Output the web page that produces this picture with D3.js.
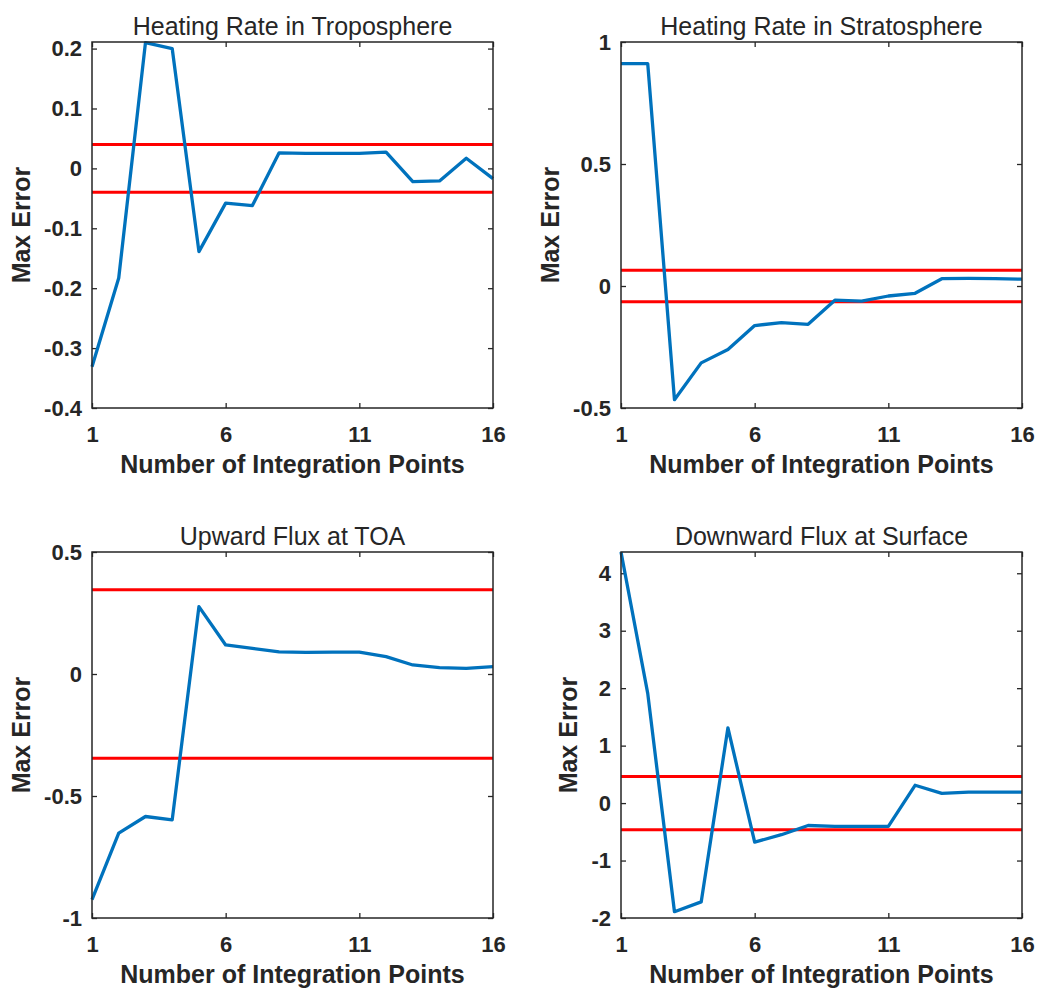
<!DOCTYPE html>
<meta charset="utf-8">
<script src="https://d3js.org/d3.v7.min.js"></script>
<style>
  body { margin: 0; background: #fff; }
  svg text { font-family: "Liberation Sans", Arial, sans-serif; fill: #262626; }
</style>
<div id="my_dataviz"></div>
<script>
    // number of integration points (x values)
    var points = d3.range(1, 17);
    var xTicks = [1, 6, 11, 16];

    var titles = ["Heating Rate in Troposphere", "Heating Rate in Stratosphere",
                  "Upward Flux at TOA", "Downward Flux at Surface"];

    // max error series
    var tropo = [-0.331, -0.183, 0.21, 0.2, -0.139, -0.058, -0.062, 0.026,
                 0.025, 0.025, 0.025, 0.027, -0.022, -0.021, 0.017, -0.017];
    var strato = [0.911, 0.911, -0.466, -0.315, -0.26, -0.162, -0.15, -0.157,
                  -0.058, -0.062, -0.041, -0.030, 0.030, 0.031, 0.030, 0.028];
    var fluxToa = [-0.925, -0.652, -0.584, -0.598, 0.276, 0.119, 0.105, 0.091,
                   0.089, 0.09, 0.09, 0.071, 0.037, 0.026, 0.023, 0.03];
    var fluxSfc = [4.37, 1.91, -1.89, -1.72, 1.31, -0.68, -0.55, -0.39,
                   -0.405, -0.405, -0.405, 0.31, 0.17, 0.19, 0.19, 0.19];

    // tolerance bands (red lines at +/- value)
    var tolerance = [0.04, 0.065, 0.345, 0.463];

    // y limits and ticks
    var yDomains = [[-0.4, 0.211], [-0.5, 1], [-1, 0.5], [-2, 4.37]];
    var yTickVals = [[-0.4, -0.3, -0.2, -0.1, 0, 0.1, 0.2],
                     [-0.5, 0, 0.5, 1],
                     [-1, -0.5, 0, 0.5],
                     [-2, -1, 0, 1, 2, 3, 4]];

    var series = [tropo, strato, fluxToa, fluxSfc];

    // panel boxes (left, top) in page pixels
    var panelPos = [[92, 42], [621, 42], [92, 552], [621, 552]];
    var pw = 401, ph = 366;

    var svg = d3.select("#my_dataviz")
        .append("svg")
        .attr("width", 1037)
        .attr("height", 988);

    function fmt(v) {
        if (v === 0) return "0";
        return String(v);
    }

    series.forEach(function (data, k) {
        var g = svg.append("g")
            .attr("transform", `translate(${panelPos[k][0]},${panelPos[k][1]})`);

        var xScale = d3.scaleLinear().domain([1, 16]).range([0, pw]);
        var yScale = d3.scaleLinear().domain(yDomains[k]).range([ph, 0]);

        // inward ticks on all four sides, like matlab
        var xAxis = d3.axisBottom(xScale).tickValues(xTicks).tickSizeInner(-5).tickSizeOuter(0);
        var xTop = d3.axisTop(xScale).tickValues(xTicks).tickSizeInner(-5).tickSizeOuter(0).tickFormat("");
        var yAxis = d3.axisLeft(yScale).tickValues(yTickVals[k]).tickSizeInner(-5).tickSizeOuter(0).tickPadding(10).tickFormat(fmt);
        var yRight = d3.axisRight(yScale).tickValues(yTickVals[k]).tickSizeInner(-5).tickSizeOuter(0).tickFormat("");

        var gx = g.append("g").attr("transform", `translate(0,${ph})`).call(xAxis);
        g.append("g").call(xTop);
        var gy = g.append("g").call(yAxis);
        g.append("g").attr("transform", `translate(${pw},0)`).call(yRight);

        g.selectAll(".domain").remove();
        g.selectAll(".tick line").attr("stroke", "#262626").attr("stroke-width", 1.3);
        g.selectAll(".tick text")
            .attr("font-size", "22px")
            .attr("font-weight", "bold")
            .attr("fill", "#262626");
        gx.selectAll(".tick text").attr("y", 34).attr("dy", null);

        // red tolerance lines
        [tolerance[k], -tolerance[k]].forEach(function (t) {
            g.append("line")
                .attr("x1", 0).attr("x2", pw)
                .attr("y1", yScale(t)).attr("y2", yScale(t))
                .attr("stroke", "#ff0000")
                .attr("stroke-width", 3);
        });

        // error curve
        g.append("path")
            .datum(data)
            .attr("fill", "none")
            .attr("stroke", "#0072BD")
            .attr("stroke-width", 3.3)
            .attr("stroke-linejoin", "round")
            .attr("d", d3.line()
                .x(function (d, i) { return xScale(points[i]) })
                .y(function (d) { return yScale(d) })
            );

        // axes box
        g.append("rect")
            .attr("x", 0).attr("y", 0)
            .attr("width", pw).attr("height", ph)
            .attr("fill", "none")
            .attr("stroke", "#262626")
            .attr("stroke-width", 1.5);

        g.append("text")
            .attr("text-anchor", "middle")
            .attr("x", pw / 2)
            .attr("y", -7)
            .attr("font-size", "25px")
            .text(titles[k]);

        g.append("text")
            .attr("text-anchor", "middle")
            .attr("x", pw / 2)
            .attr("y", ph + 65)
            .attr("font-size", "25px")
            .attr("font-weight", "bold")
            .text("Number of Integration Points");

        // y label sits left of the widest tick label
        var minX = 0;
        gy.selectAll(".tick text").each(function () {
            var b = this.getBBox();
            if (b.x < minX) minX = b.x;
        });
        g.append("text")
            .attr("text-anchor", "middle")
            .attr("transform", `translate(${minX - 14},${ph / 2}) rotate(-90)`)
            .attr("font-size", "25px")
            .attr("font-weight", "bold")
            .text("Max Error");
    });
</script>
